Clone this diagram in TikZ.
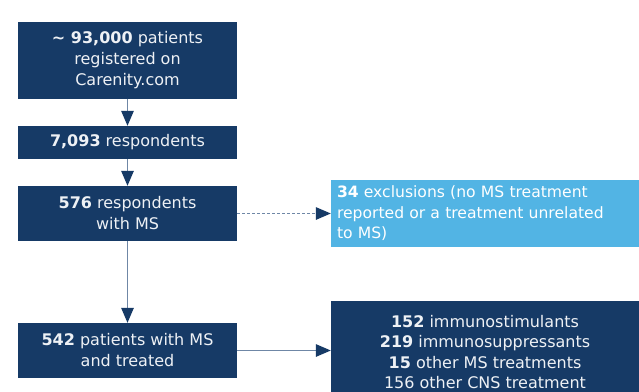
\documentclass[tikz,border=0pt]{standalone}
\usepackage{fontspec}
\setmainfont{DejaVu Sans}
\usetikzlibrary{arrows.meta}
\definecolor{navy}{HTML}{163A66}
\definecolor{sky}{HTML}{52B4E4}
\definecolor{lineblue}{HTML}{6F87A6}
\definecolor{txt}{HTML}{EEF1F5}
\tikzset{
  darkbox/.style={fill=navy, text=txt, align=center, minimum width=219pt, inner sep=0pt, font=\fontsize{16}{21}\selectfont},
  lightbox/.style={fill=sky, text=white, align=left, inner sep=0pt, font=\fontsize{15.6}{20.5}\selectfont},
  flow/.style={draw=lineblue, line width=1.4pt, -{Triangle[length=15pt,width=12.5pt,color=navy]}},
  dflow/.style={flow, dash pattern=on 3pt off 2pt}
}
\begin{document}
\begin{tikzpicture}[x=1pt,y=-1pt]
\useasboundingbox (0,0) rectangle (639,391);
\clip (0,0) rectangle (639,391);
\node[darkbox, minimum height=77pt] (b1) at (127.5,60) {\textbf{\textasciitilde{} 93,000} patients\\registered on\\Carenity.com};
\node[darkbox, minimum height=33pt] (b2) at (127.5,142.5) {\textbf{7,093} respondents};
\node[darkbox, minimum height=55pt] (b3) at (127.5,213.5) {\textbf{576} respondents\\with MS};
\node[darkbox, minimum height=55pt] (b4) at (127.5,350.5) {\textbf{542} patients with MS\\and treated};
\node[lightbox, minimum width=308pt, minimum height=67pt, text width=296pt] (b5) at (485,213.5) {\textbf{34} exclusions (no MS treatment\\reported or a treatment unrelated\\to MS)};
\node[darkbox, minimum width=308pt, minimum height=103pt, font=\fontsize{16}{20.2}\selectfont] (b6) at (485,352) {\textbf{152} immunostimulants\\\textbf{219} immunosuppressants\\\textbf{15} other MS treatments\\156 other CNS treatment};
\draw[flow] (b1) -- (b2);
\draw[flow] (b2) -- (b3);
\draw[flow] (b3) -- (b4);
\draw[dflow] (b3.east) -- (b5.west);
\draw[flow] (b4.east) -- (b4.east -| b6.west);
\end{tikzpicture}
\end{document}
